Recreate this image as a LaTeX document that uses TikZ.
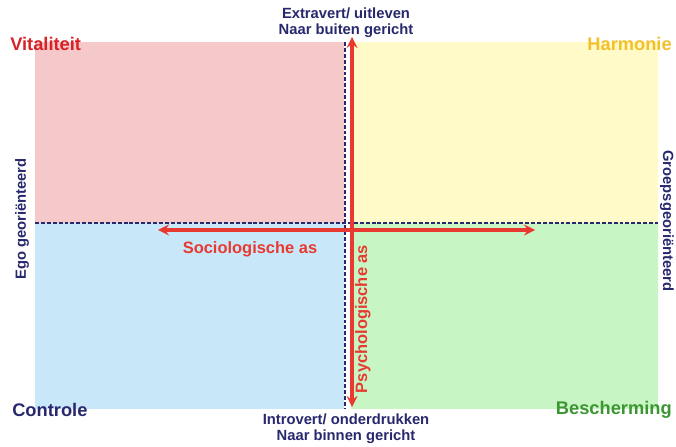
\documentclass[tikz,border=0pt]{standalone}
\usepackage{fontspec}
\setmainfont{Liberation Sans}
\usepackage{tkz-euclide}
\tikzset{>=stealth}
\definecolor{roze}{RGB}{245,201,201}
\definecolor{lichtgeel}{RGB}{255,250,200}
\definecolor{lichtblauw}{RGB}{200,232,250}
\definecolor{lichtgroen}{RGB}{200,245,196}
\definecolor{navy}{RGB}{40,40,110}
\definecolor{asrood}{RGB}{232,58,48}
\definecolor{vitaalrood}{RGB}{215,35,40}
\definecolor{goud}{RGB}{242,192,45}
\definecolor{groen}{RGB}{60,150,50}

\begin{document}
\begin{tikzpicture}[
    hoek/.style={font=\bfseries\fontsize{13}{15}\selectfont, inner sep=0pt},
    pool/.style={font=\bfseries\fontsize{10.5}{11.4}\selectfont, text=navy, align=center, inner sep=0pt},
    as/.style={font=\bfseries\fontsize{11.7}{14}\selectfont, text=asrood, inner sep=0pt},
    deel/.style={navy, line width=1.1pt, dash pattern=on 2.8pt off 1.4pt},
    pijl/.style={<->, asrood, line width=2.4pt}]
    \useasboundingbox (0,0) rectangle (16.9,11.15);
    \tkzDefPoints{0.875/5.575/TLa, 8.6/10.1/TLb, 8.775/5.575/TRa, 16.45/10.1/TRb,
                  0.875/0.925/BLa, 8.6/5.575/BLb, 8.775/0.925/BRa, 16.45/5.575/BRb}
    \tkzDefPoints{0.875/5.575/H1, 16.45/5.575/H2, 8.625/10.1/V1, 8.625/0.925/V2}
    \tkzDefPoints{8.8/10.225/P1, 8.8/0.975/P2, 3.95/5.4/S1, 13.375/5.4/S2}
    \fill[roze] (TLa) rectangle (TLb);
    \fill[lichtgeel] (TRa) rectangle (TRb);
    \fill[lichtblauw] (BLa) rectangle (BLb);
    \fill[lichtgroen] (BRa) rectangle (BRb);
    \draw[deel] (H1) -- (H2);
    \draw[deel] (V1) -- (V2);
    \draw[pijl] (S1) -- (S2);
    \draw[pijl] (P1) -- (P2);
    \node[hoek, text=vitaalrood, anchor=west] (vitaal) at (0.25,10.05) {Vitaliteit};
    \node[hoek, text=goud, anchor=east] (harmonie) at (16.8,10.05) {Harmonie};
    \node[hoek, text=navy, anchor=west] (controle) at (0.3,0.9) {Controle};
    \node[hoek, text=groen, anchor=east] (bescherm) at (16.8,0.9) {Bescherming};
    \node[pool] (extra) at (8.65,10.575) {Extravert/ uitleven\\Naar buiten gericht};
    \node[pool] (intro) at (8.65,0.44) {Introvert/ onderdrukken\\Naar binnen gericht};
    \node[pool, rotate=90] (ego) at (0.55,5.675) {Ego georiënteerd};
    \node[pool, rotate=-90] (groep) at (16.675,5.625) {Groepsgeoriënteerd};
    \node[as] (socio) at (6.25,4.925) {Sociologische as};
    \node[as, rotate=90] (psycho) at (9.075,3.175) {Psychologische as};
\end{tikzpicture}
\end{document}
